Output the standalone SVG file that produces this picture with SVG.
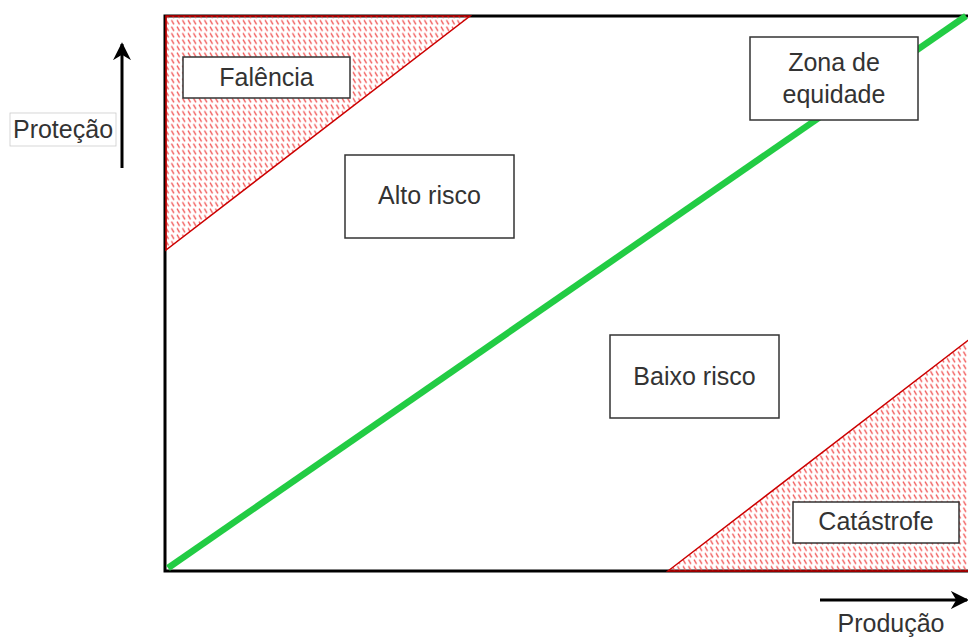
<svg xmlns="http://www.w3.org/2000/svg" width="968" height="639" viewBox="0 0 968 639">
<style>
.lbl{fill:#fff;stroke:#333;stroke-width:1.5}
.t{font-family:"Liberation Sans",Arial,sans-serif;font-size:25px;fill:#333;text-anchor:middle}
.zone{fill:url(#hatch);stroke:#c00;stroke-width:1.5}
</style>
<defs>
<pattern id="hatch" patternUnits="userSpaceOnUse" width="5.5" height="6.5">
<line x1="1" y1="0.5" x2="3.5" y2="5" stroke="#f05050" stroke-width="1.3"/>
</pattern>
<marker id="ah" viewBox="0 0 10 10" refX="9" refY="5" markerWidth="6" markerHeight="6" orient="auto" markerUnits="strokeWidth">
<path d="M0,0 L10,5 L0,10 L3,5 Z" fill="#000"/>
</marker>
</defs>
<rect width="968" height="639" fill="#fff"/>
<g id="frame">
<rect x="165" y="16" width="810" height="555" fill="none" stroke="#000" stroke-width="3"/>
</g>
<g id="falencia-zone">
<polygon class="zone" points="166,16 470,16 166,250"/>
</g>
<g id="catastrofe-zone">
<polygon class="zone" points="668,571 975,335 975,571"/>
</g>
<g id="connectors">
<line x1="168" y1="568" x2="966" y2="16" stroke="#22cc44" stroke-width="6.5"/>
<line x1="122" y1="168" x2="122" y2="44" stroke="#000" stroke-width="3" marker-end="url(#ah)"/>
<line x1="820" y1="600" x2="967" y2="600" stroke="#000" stroke-width="3" marker-end="url(#ah)"/>
</g>
<g id="falencia">
<rect class="lbl" x="183" y="57" width="167" height="41"/>
<text class="t" x="266.5" y="86">Falência</text>
</g>
<g id="alto-risco">
<rect class="lbl" x="345" y="155" width="169" height="83"/>
<text class="t" x="429.5" y="204">Alto risco</text>
</g>
<g id="zona-equidade">
<rect class="lbl" x="750" y="37" width="168" height="83"/>
<text class="t" x="834" y="71">Zona de</text>
<text class="t" x="834" y="103">equidade</text>
</g>
<g id="baixo-risco">
<rect class="lbl" x="610" y="335" width="169" height="83"/>
<text class="t" x="694.5" y="385">Baixo risco</text>
</g>
<g id="catastrofe">
<rect class="lbl" x="793" y="502" width="166" height="41"/>
<text class="t" x="876" y="530">Catástrofe</text>
</g>
<g id="protecao">
<rect x="10" y="113" width="106" height="33" fill="#fff" stroke="#ccc" stroke-width="0.8"/>
<text class="t" x="63" y="138">Proteção</text>
</g>
<g id="producao">
<text class="t" x="891" y="632">Produção</text>
</g>
</svg>
